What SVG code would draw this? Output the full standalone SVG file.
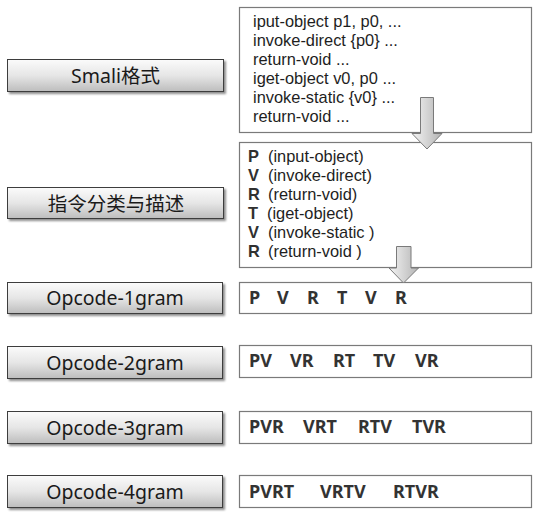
<svg xmlns="http://www.w3.org/2000/svg" width="542" height="518" viewBox="0 0 542 518">
<defs>
<linearGradient id="btn" x1="0" y1="0" x2="0" y2="1">
<stop offset="0" stop-color="#fbfbfb"/>
<stop offset="0.5" stop-color="#e6e6e6"/>
<stop offset="1" stop-color="#bdbdbd"/>
</linearGradient>
<linearGradient id="arr" x1="0" y1="0" x2="1" y2="0">
<stop offset="0" stop-color="#f4f4f4"/>
<stop offset="1" stop-color="#b4b4b4"/>
</linearGradient>
<filter id="sh" x="-5%" y="-20%" width="115%" height="160%">
<feGaussianBlur in="SourceAlpha" stdDeviation="1.2"/>
<feOffset dx="1.5" dy="2" result="b"/>
<feComponentTransfer><feFuncA type="linear" slope="0.45"/></feComponentTransfer>
<feMerge><feMergeNode/><feMergeNode in="SourceGraphic"/></feMerge>
</filter>
</defs>
<style>
.btn{fill:url(#btn);stroke:#3c3c3c;stroke-width:1;filter:url(#sh)}
.lbl{font-family:"Noto Sans","Noto Sans CJK SC",sans-serif;font-size:19.5px;fill:#1a1a1a;text-anchor:middle}
.box{fill:#fff;stroke:#7a7a7a;stroke-width:1.2}
.code{font-family:"Liberation Sans",Arial,sans-serif;font-size:16.4px;fill:#1e1e1e}
.b{font-weight:bold;fill:#303030}
.gram{font-family:"Noto Sans",sans-serif;font-size:18px;font-weight:bold;fill:#333}
.arrow{fill:url(#arr);stroke:#7a7a7a;stroke-width:1}
</style>
<rect width="542" height="518" fill="#fff"/>

<g id="smali-label"><rect class="btn" x="7.5" y="59.5" width="216" height="32"/><text class="lbl" x="115.5" y="83">Smali格式</text></g>
<g id="smali-box"><rect class="box" x="239.5" y="7.5" width="292" height="125"/>
<text class="code"><tspan x="253" y="27">iput-object p1, p0, ...</tspan><tspan x="253" y="46">invoke-direct {p0} ...</tspan><tspan x="253" y="65">return-void ...</tspan><tspan x="253" y="84">iget-object v0, p0 ...</tspan><tspan x="253" y="103">invoke-static {v0} ...</tspan><tspan x="253" y="122">return-void ...</tspan></text></g>

<g id="classify-label"><rect class="btn" x="7.5" y="187.5" width="216" height="31"/><text class="lbl" x="116" y="211">指令分类与描述</text></g>
<g id="classify-box"><rect class="box" x="239.5" y="142.5" width="292" height="125"/>
<text class="code"><tspan x="248" y="162" class="b">P</tspan><tspan x="268" y="162">(input-object)</tspan><tspan x="248" y="181" class="b">V</tspan><tspan x="268" y="181">(invoke-direct)</tspan><tspan x="248" y="200" class="b">R</tspan><tspan x="268" y="200">(return-void)</tspan><tspan x="248" y="219" class="b">T</tspan><tspan x="267" y="219">(iget-object)</tspan><tspan x="248" y="238" class="b">V</tspan><tspan x="268" y="238">(invoke-static )</tspan><tspan x="248" y="257" class="b">R</tspan><tspan x="268" y="257">(return-void )</tspan></text></g>

<g id="gram1-label"><rect class="btn" x="7.5" y="282.5" width="215" height="31"/><text class="lbl" x="115" y="305">Opcode-1gram</text></g>
<g id="gram1-box"><rect class="box" x="239.5" y="282.5" width="292" height="31"/>
<text class="gram" y="304"><tspan x="249">P</tspan><tspan x="277">V</tspan><tspan x="307">R</tspan><tspan x="337">T</tspan><tspan x="365">V</tspan><tspan x="395">R</tspan></text></g>

<g id="gram2-label"><rect class="btn" x="7.5" y="346.5" width="215" height="32"/><text class="lbl" x="115" y="370">Opcode-2gram</text></g>
<g id="gram2-box"><rect class="box" x="239.5" y="345.5" width="292" height="32"/>
<text class="gram" y="367"><tspan x="249">PV</tspan><tspan x="290">VR</tspan><tspan x="333">RT</tspan><tspan x="373">TV</tspan><tspan x="415">VR</tspan></text></g>

<g id="gram3-label"><rect class="btn" x="7.5" y="411.5" width="215" height="32"/><text class="lbl" x="115" y="435">Opcode-3gram</text></g>
<g id="gram3-box"><rect class="box" x="239.5" y="411.5" width="292" height="32"/>
<text class="gram" y="433"><tspan x="249">PVR</tspan><tspan x="303">VRT</tspan><tspan x="358">RTV</tspan><tspan x="412">TVR</tspan></text></g>

<g id="gram4-label"><rect class="btn" x="7.5" y="475.5" width="215" height="32"/><text class="lbl" x="115" y="499">Opcode-4gram</text></g>
<g id="gram4-box"><rect class="box" x="239.5" y="475.5" width="292" height="32"/>
<text class="gram" y="498"><tspan x="249">PVRT</tspan><tspan x="320">VRTV</tspan><tspan x="393">RTVR</tspan></text></g>

<g id="connectors">
<path class="arrow" d="M420.5,97.5 H433.5 V133.5 H442 L427,149 L412,133.5 H420.5 Z"/>
<path class="arrow" d="M396.5,246.5 H411 V268 H418.5 L403.5,283 L389,268 H396.5 Z"/>
</g>
</svg>
